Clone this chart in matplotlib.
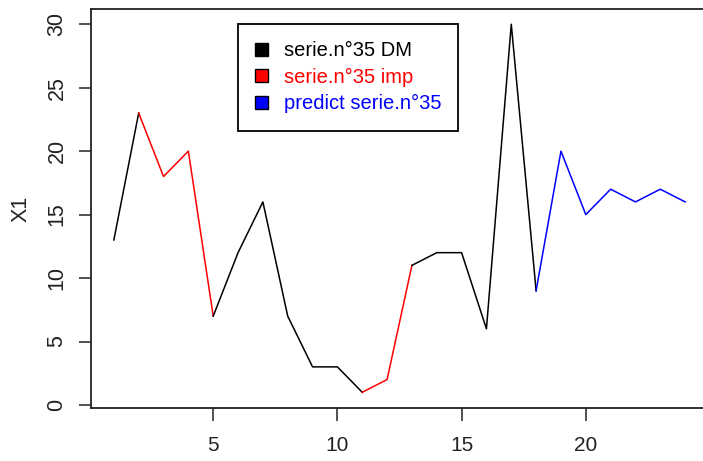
import numpy as np
import matplotlib.pyplot as plt
from matplotlib.patches import Patch

# serie n°35 : values 1..24
x = np.arange(1, 25)
y = [13, 23, 18, 20, 7, 12, 16, 7, 3, 3, 1, 2,
     11, 12, 12, 6, 30, 9, 20, 15, 17, 16, 17, 16]

# pieces of the series (start index, end index, colour)
pieces = [(1, 2, 'black'), (2, 5, 'red'), (5, 11, 'black'),
          (11, 13, 'red'), (13, 18, 'black'), (18, 24, 'blue')]

leg_labels = ['serie.n°35 DM', 'serie.n°35 imp', 'predict serie.n°35']
leg_colors = ['black', 'red', 'blue']

xticks = [5, 10, 15, 20]
yticks = [0, 5, 10, 15, 20, 25, 30]

plt.rcParams['font.family'] = ['Liberation Sans', 'DejaVu Sans']

fig = plt.figure(figsize=(7.03, 4.61), dpi=100)
ax = fig.add_axes([91/703, 53/461, 617/703, 399/461])

for a, b, c in pieces:
    ax.plot(x[a-1:b], y[a-1:b], color=c, lw=1.1)

ax.set_xlim(0.08, 24.92)
ax.set_ylim(-0.24, 31.2)
ax.set_xticks(xticks)
ax.set_yticks(yticks)
for s in ax.spines.values():
    s.set_linewidth(1.3)
    s.set_color('#222222')
ax.tick_params(axis='both', length=9, width=1.1, color='#222222',
               labelsize=15, labelcolor='#222222')
ax.tick_params(axis='x', pad=11)
ax.tick_params(axis='y', pad=8)
for t in ax.get_yticklabels():
    t.set_rotation(90)
    t.set_va('center')
    t.set_fontsize(15.5)
ax.set_ylabel('X1', fontsize=15.5, color='#222222', labelpad=11)

handles = [Patch(facecolor=c, edgecolor='black') for c in leg_colors]
leg = ax.legend(handles, leg_labels, loc='upper left',
                bbox_to_anchor=(238/703, 1 - 24/461),
                bbox_transform=fig.transFigure,
                fancybox=False, edgecolor='black', framealpha=1,
                fontsize=14.5, handlelength=0.65, handleheight=0.65,
                handletextpad=0.75, labelspacing=0.37, borderpad=0.86,
                borderaxespad=0, labelcolor=leg_colors)
leg.get_frame().set_linewidth(1.3)

fig.savefig('out.png', dpi=100)
